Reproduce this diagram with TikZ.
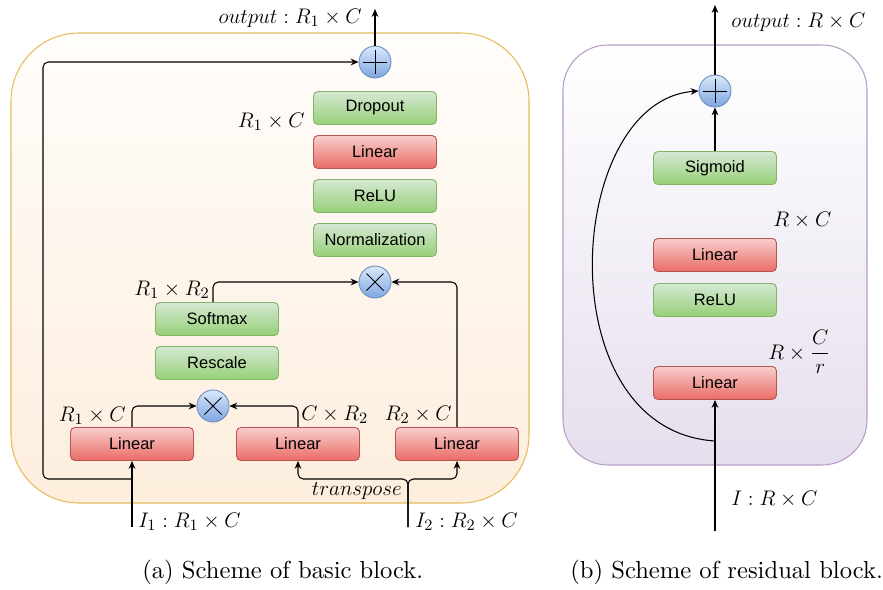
\documentclass[tikz,border=0pt]{standalone}
\usepackage{amsmath}
\usepackage{fontspec}
\newfontfamily\boxfont{Liberation Sans}
\newfontfamily\capfont{lmroman10-regular}[Extension=.otf]
\usetikzlibrary{arrows.meta,calc}
\definecolor{gtop}{HTML}{D5E8D4}
\definecolor{gbot}{HTML}{97D077}
\definecolor{gline}{HTML}{82B366}
\definecolor{rtop}{HTML}{F8CECC}
\definecolor{rbot}{HTML}{EA6B66}
\definecolor{rline}{HTML}{B85450}
\definecolor{btop}{HTML}{DAE8FC}
\definecolor{bbot}{HTML}{7EA6E0}
\definecolor{bline}{HTML}{6C8EBF}
\definecolor{otop}{HTML}{FFFDFB}
\definecolor{obot}{HTML}{FDEEDD}
\definecolor{oline}{HTML}{E5BB5C}
\definecolor{ptop}{HTML}{FFFFFF}
\definecolor{pbot}{HTML}{E6DEED}
\definecolor{pline}{HTML}{B79CC7}

\begin{document}
\begin{tikzpicture}[x=0.02cm,y=-0.02cm,font=\fontsize{12.9}{14}\selectfont,
  blk/.style={rounded corners=2.5pt,minimum width=2.46cm,minimum height=0.66cm,inner sep=0pt,line width=0.5pt,font=\boxfont\fontsize{9.4}{11}\selectfont},
  grnbox/.style={blk,draw=gline,top color=gtop,bottom color=gbot},
  redbox/.style={blk,draw=rline,top color=rtop,bottom color=rbot},
  opnode/.style={circle,draw=bline,line width=0.5pt,top color=btop,bottom color=bbot,minimum size=0.64cm,inner sep=0pt},
  plusop/.style={opnode,path picture={\draw[black,line width=0.5pt] (path picture bounding box.center) +(-12,0) -- +(12,0) +(0,-12) -- +(0,12);}},
  timesop/.style={opnode,path picture={\draw[black,line width=0.5pt] (path picture bounding box.center) +(-8.5,-8.5) -- +(8.5,8.5) +(-8.5,8.5) -- +(8.5,-8.5);}},
  arr/.style={-{Stealth[length=4.5pt,width=3.8pt]},line width=0.6pt},
  lbl/.style={inner sep=0pt},
  captxt/.style={inner sep=0pt,font=\capfont\fontsize{14}{16}\selectfont}]
\useasboundingbox (0,0) rectangle (883,589);
% (a) basic block
\draw[draw=oline,top color=otop,bottom color=obot,rounded corners=1.36cm,line width=0.6pt] (11,33) rectangle (529,503);
\node[plusop] (plusA) at (375,62) {};
\node[grnbox] (dropA) at (375,108) {Dropout};
\node[redbox] (linA) at (375,152) {Linear};
\node[grnbox] (reluA) at (375,196) {ReLU};
\node[grnbox] (normA) at (375,240) {Normalization};
\node[timesop] (mulA) at (375,282) {};
\node[grnbox] (softA) at (217,319) {Softmax};
\node[grnbox] (rescA) at (217,363) {Rescale};
\node[timesop] (mulB) at (213,406) {};
\node[redbox] (linB) at (132,444) {Linear};
\node[redbox] (linC) at (298,444) {Linear};
\node[redbox] (linD) at (457,444) {Linear};
\coordinate (outA) at (375,9);
\coordinate (inA) at (132,527);
\coordinate (splitA) at (132,479);
\coordinate (cornA) at (43,479);
\coordinate (inB) at (408,527);
\coordinate (splitB) at (408,479);
\draw[arr] (plusA.north) -- (outA);
\draw[arr,rounded corners=3pt] (splitA) -- (cornA) |- (plusA.west);
\draw[arr] (inA) -- (linB.south);
\draw[arr,rounded corners=3pt] (linB.north) |- (mulB.west);
\draw[arr,rounded corners=3pt] (linC.north) |- (mulB.east);
\draw[arr,rounded corners=3pt] (linD.north) |- (mulA.east);
\draw[arr,rounded corners=3pt] (mulB |- softA.north) |- (mulA.west);
\draw[arr,rounded corners=3pt] (inB) -- (splitB) -| (linC.south);
\draw[arr,rounded corners=3pt] (inB) -- (splitB) -| (linD.south);
\node[lbl,anchor=base east] (outAlbl) at (362,23) {$output : R_1 \times C$};
\node[lbl,anchor=base east] (dimA) at (305,127) {$R_1 \times C$};
\node[lbl,anchor=base east] (dimB) at (210,295) {$R_1 \times R_2$};
\node[lbl,anchor=base east] (dimC) at (126,421) {$R_1 \times C$};
\node[lbl,anchor=base west] (dimD) at (301,420) {$C \times R_2$};
\node[lbl,anchor=base east] (dimE) at (452,420) {$R_2 \times C$};
\node[lbl,anchor=base east] (trLbl) at (402,495) {$transpose$};
\node[lbl,anchor=base west] (inAlbl) at (138,527) {$I_1 : R_1 \times C$};
\node[lbl,anchor=base west] (inBlbl) at (415,527) {$I_2 : R_2 \times C$};
\node[captxt,anchor=base west] (capA) at (142,578) {(a) Scheme of basic block.};
% (b) residual block
\draw[draw=pline,top color=ptop,bottom color=pbot,rounded corners=0.9cm,line width=0.6pt] (563,45) rectangle (867,465);
\node[plusop] (plusB) at (715,91) {};
\node[grnbox] (sigB) at (715,168) {Sigmoid};
\node[redbox] (linE) at (715,255) {Linear};
\node[grnbox] (reluB) at (715,300) {ReLU};
\node[redbox] (linF) at (715,383) {Linear};
\coordinate (outB) at (715,5);
\coordinate (inC) at (715,531);
\coordinate (splitC) at (715,441);
\draw[arr] (plusB.north) -- (outB);
\draw[arr] (sigB.north) -- (plusB.south);
\draw[arr] (inC) -- (linF.south);
\draw[arr] (splitC) .. controls (545,430) and (565,100) .. (plusB.west);
\node[lbl,anchor=base west] (outBlbl) at (731,27) {$output : R \times C$};
\node[lbl,anchor=base west] (dimF) at (773,226) {$R \times C$};
\node[lbl,anchor=west] (dimG) at (768,352) {$R \times \dfrac{C}{r}$};
\node[lbl,anchor=base west] (inClbl) at (731,505) {$I : R \times C$};
\node[captxt,anchor=base west] (capB) at (570,578) {(b) Scheme of residual block.};
\end{tikzpicture}
\end{document}
